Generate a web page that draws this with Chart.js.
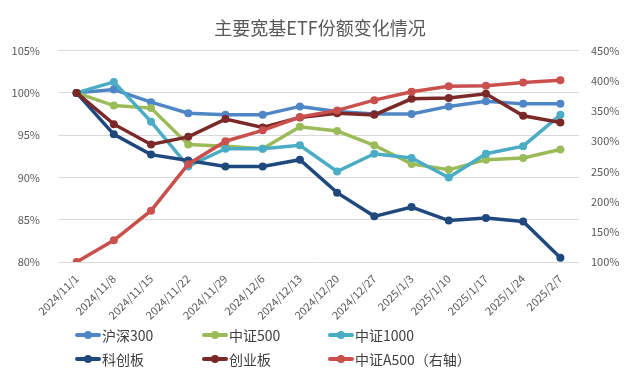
<!DOCTYPE html>
<html>
<head>
<meta charset="utf-8">
<script src="https://cdn.jsdelivr.net/npm/chart.js@4"></script>
<style>
  html, body { margin: 0; padding: 0; background: #fff; }
  #wrap { position: relative; width: 640px; height: 377px; }
  #lg { position: absolute; left: 75px; top: 325px; display: grid; grid-template-columns: 127px 126px 200px; row-gap: 4px;
        font-family: "Noto Sans CJK SC", sans-serif; font-size: 14px; color: #404040; }
  .it { display: flex; align-items: center; height: 20px; white-space: nowrap; }
  .mk { position: relative; width: 26px; height: 20px; margin-right: 1px; }
  .mk i { position: absolute; left: 0; right: 0; top: 8px; height: 4px; border-radius: 2px; }
  .mk b { position: absolute; left: 9px; top: 6px; width: 8px; height: 8px; border-radius: 50%; }
</style>
</head>
<body>
<div id="wrap"><canvas id="c" width="640" height="377"></canvas><div id="lg"></div></div>
<script>
// 主要宽基ETF份额变化情况
const dates = ['2024/11/1','2024/11/8','2024/11/15','2024/11/22','2024/11/29','2024/12/6','2024/12/13',
               '2024/12/20','2024/12/27','2025/1/3','2025/1/10','2025/1/17','2025/1/24','2025/2/7'];
const hs300  = [100, 100.4, 98.9, 97.6, 97.4, 97.4, 98.4, 97.8, 97.5, 97.5, 98.4, 99.0, 98.7, 98.7];
const zz500  = [100, 98.5, 98.2, 93.9, 93.7, 93.4, 96.0, 95.5, 93.8, 91.6, 90.9, 92.1, 92.3, 93.3];
const zz1000 = [100, 101.3, 96.6, 91.3, 93.4, 93.4, 93.8, 90.7, 92.8, 92.3, 90.0, 92.8, 93.7, 97.4];
const kcb    = [100, 95.1, 92.7, 92.0, 91.3, 91.3, 92.1, 88.2, 85.4, 86.5, 84.9, 85.2, 84.8, 80.5];
const cyb    = [100, 96.3, 93.9, 94.8, 96.9, 95.9, 97.1, 97.6, 97.4, 99.3, 99.4, 99.9, 97.3, 96.5];
const a500   = [100, 136, 185, 262, 300, 318, 340, 351, 368, 382, 391, 392, 397, 401]; // 右轴
const leftTicks = [80, 85, 90, 95, 100, 105];
const rightTicks = [100, 150, 200, 250, 300, 350, 400, 450];

const names  = ['沪深300', '中证500', '中证1000', '科创板', '创业板', '中证A500（右轴）'];
const colors = ['#4f86c6', '#9bbb59', '#4bacc6', '#1f497d', '#7b2828', '#c9504d'];
const series = [hs300, zz500, zz1000, kcb, cyb, a500];

const FONT = '"Noto Sans CJK SC", sans-serif';
const GRAY = '#595959';

const datasets = series.map((d, i) => ({
  label: names[i], data: d, yAxisID: i === 5 ? 'y1' : 'y',
  borderColor: colors[i], backgroundColor: colors[i], pointBackgroundColor: colors[i],
  borderWidth: 3.5, pointRadius: 4, pointBorderWidth: 0, tension: 0, order: 6 - i
}));

new Chart(document.getElementById('c'), {
  type: 'line',
  data: { labels: dates, datasets },
  options: {
    responsive: false, animation: false,
    layout: { padding: { left: 0, right: 0, top: 0, bottom: 0 } },
    plugins: {
      legend: { display: false }, tooltip: { enabled: false },
      title: { display: true, text: '主要宽基ETF份额变化情况', color: GRAY,
               font: { family: FONT, size: 18, weight: 'normal' }, padding: { top: 17, bottom: 12 } }
    },
    scales: {
      x: {
        offset: true, grid: { display: false }, border: { display: false },
        ticks: { color: GRAY, font: { family: FONT, size: 11 }, minRotation: 45, maxRotation: 45, autoSkip: false, padding: 2 },
        afterFit: s => { s.height = 115 }
      },
      y: {
        position: 'left', min: 80, max: 105, border: { display: false },
        grid: { color: '#d9d9d9', lineWidth: 1, drawTicks: false },
        afterBuildTicks: s => { s.ticks = leftTicks.map(v => ({ value: v })) },
        ticks: { color: GRAY, font: { family: FONT, size: 11 }, padding: 18, callback: v => v + '%' },
        afterFit: s => { s.width = 58 }
      },
      y1: {
        position: 'right', min: 100, max: 450, border: { display: false },
        grid: { display: false, drawTicks: false },
        afterBuildTicks: s => { s.ticks = rightTicks.map(v => ({ value: v })) },
        ticks: { color: GRAY, font: { family: FONT, size: 11 }, padding: 12, callback: v => v + '%' },
        afterFit: s => { s.width = 61 }
      }
    }
  }
});

// 图例：两行三列
document.getElementById('lg').innerHTML = [0, 1, 2, 3, 4, 5].map(i =>
  `<div class="it"><span class="mk"><i style="background:${colors[i]}"></i><b style="background:${colors[i]}"></b></span>${names[i]}</div>`
).join('');
</script>
</body>
</html>
